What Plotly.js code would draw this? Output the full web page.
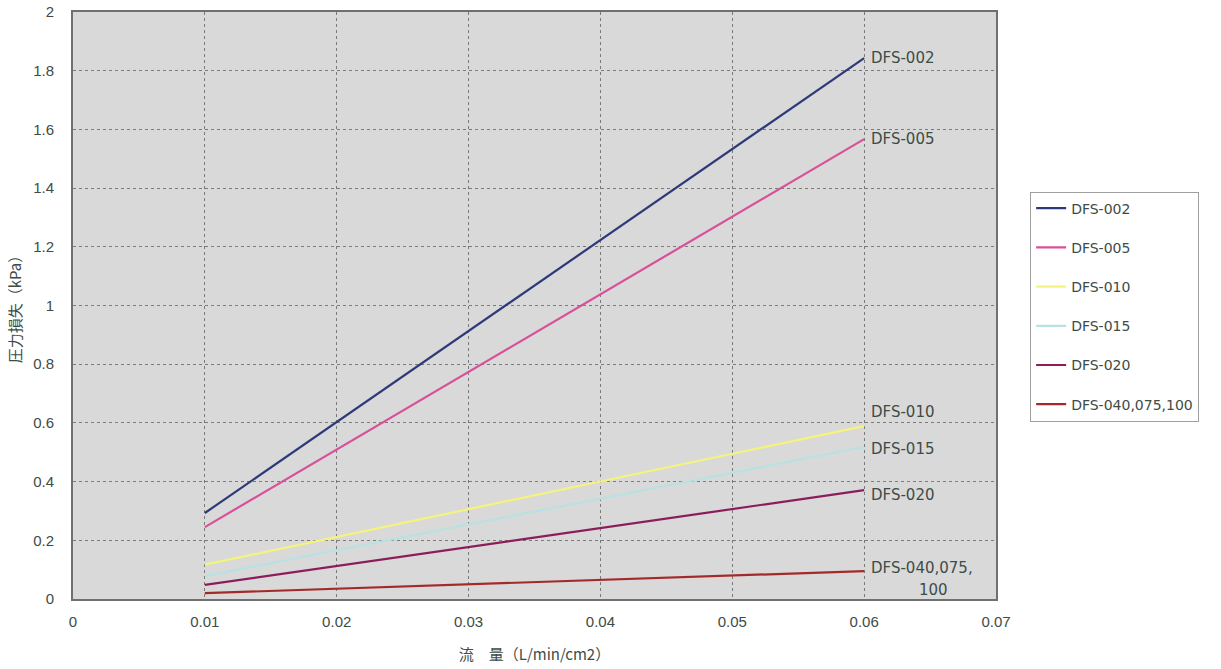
<!DOCTYPE html>
<html>
<head>
<meta charset="utf-8">
<script src="https://cdn.plot.ly/plotly-3.0.1.min.js"></script>
<style>html,body{margin:0;padding:0;background:#fff;}#chart{width:1221px;height:669px;}</style>
</head>
<body>
<div id="chart"></div>
<script>
var flow = [0.01, 0.02, 0.03, 0.04, 0.05, 0.06];
var seriesNames = ["DFS-002", "DFS-005", "DFS-010", "DFS-015", "DFS-020", "DFS-040,075,100"];
var dfs002 = [0.293, 0.603, 0.913, 1.223, 1.533, 1.843];
var dfs005 = [0.245, 0.509, 0.774, 1.038, 1.303, 1.567];
var dfs010 = [0.117, 0.212, 0.306, 0.401, 0.495, 0.589];
var dfs015 = [0.078, 0.166, 0.254, 0.342, 0.430, 0.518];
var dfs020 = [0.048, 0.113, 0.177, 0.242, 0.306, 0.371];
var dfs040 = [0.020, 0.035, 0.050, 0.065, 0.080, 0.095];
var endLabels = ["DFS-002", "DFS-005", "DFS-010", "DFS-015", "DFS-020", "DFS-040,075,"];
var endLabelExtra = "100";
var xTicks = [0, 0.01, 0.02, 0.03, 0.04, 0.05, 0.06, 0.07];
var yTicks = [0, 0.2, 0.4, 0.6, 0.8, 1, 1.2, 1.4, 1.6, 1.8, 2];

var values = [dfs002, dfs005, dfs010, dfs015, dfs020, dfs040];
var colors = ["#2c3a78", "#d8509a", "#f4f47c", "#b8e2e2", "#8c1c5c", "#a42a2a"];
var labelShift = [0, 0, 14, -2, -5, 3];
var txt = "#3e4c46";
var tickFam = "Liberation Sans, Arial, sans-serif";
var labFam = "DejaVu Sans, sans-serif";
var cjkFam = "Noto Sans CJK JP, sans-serif";

var traces = values.map(function (v, i) {
  return {
    x: flow, y: v, name: seriesNames[i], type: "scatter", mode: "lines",
    line: {color: colors[i], width: 2.2}, legendgroup: "g" + i
  };
});

var annotations = values.map(function (v, i) {
  return {
    x: flow[flow.length - 1], y: v[v.length - 1], xref: "x", yref: "y",
    text: endLabels[i], showarrow: false, xanchor: "left", yanchor: "middle",
    xshift: 5, yshift: labelShift[i],
    font: {size: 15, color: txt, family: labFam}
  };
});
annotations.push({
  x: flow[flow.length - 1], y: dfs040[dfs040.length - 1], xref: "x", yref: "y",
  text: endLabelExtra, showarrow: false, xanchor: "left", yanchor: "middle",
  xshift: 53, yshift: -19,
  font: {size: 15, color: txt, family: labFam}
});

var layout = {
  width: 1221, height: 669,
  margin: {l: 73, r: 225, t: 12, b: 70},
  paper_bgcolor: "#ffffff",
  plot_bgcolor: "#d9d9d9",
  font: {family: tickFam, color: txt, size: 15},
  showlegend: true,
  legend: {
    x: 1.037, y: 0.694, xanchor: "left", yanchor: "top",
    bordercolor: "#a0a0a0", borderwidth: 1, bgcolor: "#ffffff",
    font: {size: 14, color: txt, family: labFam},
    traceorder: "grouped", tracegroupgap: 18, entrywidth: 190
  },
  xaxis: {
    range: [0, 0.07], tickvals: xTicks, ticktext: xTicks.map(String),
    showgrid: true, gridcolor: "#7a7a7a", griddash: "dot", gridwidth: 1,
    zeroline: false, showline: true, linecolor: "#707070", linewidth: 2, mirror: true,
    ticks: "", ticklabelstandoff: 8, tickfont: {size: 15, color: txt, family: tickFam},
    title: {text: "流　量（L/min/cm2）", font: {size: 15, color: txt, family: cjkFam}, standoff: 20}
  },
  yaxis: {
    range: [0, 2], tickvals: yTicks, ticktext: yTicks.map(String),
    showgrid: true, gridcolor: "#7a7a7a", griddash: "dot", gridwidth: 1,
    zeroline: false, showline: true, linecolor: "#707070", linewidth: 2, mirror: true,
    ticks: "", ticklabelstandoff: 14, tickfont: {size: 15, color: txt, family: tickFam},
    title: {text: "圧力損失（kPa）", font: {size: 15, color: txt, family: cjkFam}, standoff: 8}
  },
  annotations: annotations
};

Plotly.newPlot("chart", traces, layout, {displayModeBar: false, staticPlot: true});
</script>
</body>
</html>
